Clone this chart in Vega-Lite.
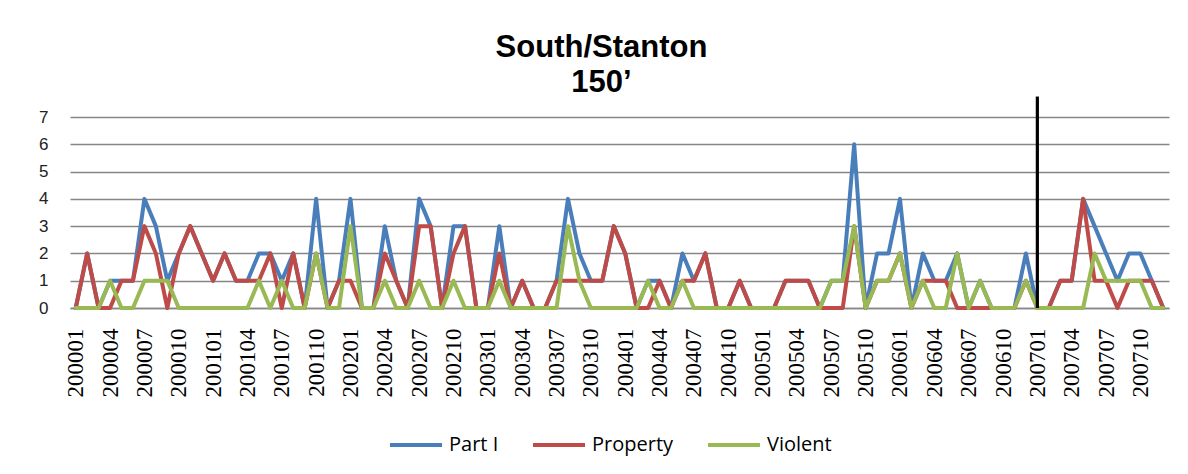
{
  "$schema": "https://vega.github.io/schema/vega-lite/v6.json",
  "width": 1099,
  "height": 191,
  "autosize": {"type": "none"},
  "padding": {"left": 70, "top": 117, "right": 19, "bottom": 166},
  "background": "white",
  "title": {"text": ["South/Stanton", "150’"], "anchor": "middle", "frame": "group", "font": "Liberation Sans Narrow, Liberation Sans, Arial, sans-serif", "fontSize": 31, "fontWeight": "bold", "lineHeight": 35, "offset": -4, "dx": -18, "color": "#000"},
  "config": {"view": {"stroke": null}},
  "layer": [
    {
      "data": {"values": [
        {"m":"200001","Part I":0,"Property":0,"Violent":0},
        {"m":"200002","Part I":2,"Property":2,"Violent":0},
        {"m":"200003","Part I":0,"Property":0,"Violent":0},
        {"m":"200004","Part I":1,"Property":0,"Violent":1},
        {"m":"200005","Part I":1,"Property":1,"Violent":0},
        {"m":"200006","Part I":1,"Property":1,"Violent":0},
        {"m":"200007","Part I":4,"Property":3,"Violent":1},
        {"m":"200008","Part I":3,"Property":2,"Violent":1},
        {"m":"200009","Part I":1,"Property":0,"Violent":1},
        {"m":"200010","Part I":2,"Property":2,"Violent":0},
        {"m":"200011","Part I":3,"Property":3,"Violent":0},
        {"m":"200012","Part I":2,"Property":2,"Violent":0},
        {"m":"200101","Part I":1,"Property":1,"Violent":0},
        {"m":"200102","Part I":2,"Property":2,"Violent":0},
        {"m":"200103","Part I":1,"Property":1,"Violent":0},
        {"m":"200104","Part I":1,"Property":1,"Violent":0},
        {"m":"200105","Part I":2,"Property":1,"Violent":1},
        {"m":"200106","Part I":2,"Property":2,"Violent":0},
        {"m":"200107","Part I":1,"Property":0,"Violent":1},
        {"m":"200108","Part I":2,"Property":2,"Violent":0},
        {"m":"200109","Part I":0,"Property":0,"Violent":0},
        {"m":"200110","Part I":4,"Property":2,"Violent":2},
        {"m":"200111","Part I":0,"Property":0,"Violent":0},
        {"m":"200112","Part I":1,"Property":1,"Violent":0},
        {"m":"200201","Part I":4,"Property":1,"Violent":3},
        {"m":"200202","Part I":0,"Property":0,"Violent":0},
        {"m":"200203","Part I":0,"Property":0,"Violent":0},
        {"m":"200204","Part I":3,"Property":2,"Violent":1},
        {"m":"200205","Part I":1,"Property":1,"Violent":0},
        {"m":"200206","Part I":0,"Property":0,"Violent":0},
        {"m":"200207","Part I":4,"Property":3,"Violent":1},
        {"m":"200208","Part I":3,"Property":3,"Violent":0},
        {"m":"200209","Part I":0,"Property":0,"Violent":0},
        {"m":"200210","Part I":3,"Property":2,"Violent":1},
        {"m":"200211","Part I":3,"Property":3,"Violent":0},
        {"m":"200212","Part I":0,"Property":0,"Violent":0},
        {"m":"200301","Part I":0,"Property":0,"Violent":0},
        {"m":"200302","Part I":3,"Property":2,"Violent":1},
        {"m":"200303","Part I":0,"Property":0,"Violent":0},
        {"m":"200304","Part I":1,"Property":1,"Violent":0},
        {"m":"200305","Part I":0,"Property":0,"Violent":0},
        {"m":"200306","Part I":0,"Property":0,"Violent":0},
        {"m":"200307","Part I":1,"Property":1,"Violent":0},
        {"m":"200308","Part I":4,"Property":1,"Violent":3},
        {"m":"200309","Part I":2,"Property":1,"Violent":1},
        {"m":"200310","Part I":1,"Property":1,"Violent":0},
        {"m":"200311","Part I":1,"Property":1,"Violent":0},
        {"m":"200312","Part I":3,"Property":3,"Violent":0},
        {"m":"200401","Part I":2,"Property":2,"Violent":0},
        {"m":"200402","Part I":0,"Property":0,"Violent":0},
        {"m":"200403","Part I":1,"Property":0,"Violent":1},
        {"m":"200404","Part I":1,"Property":1,"Violent":0},
        {"m":"200405","Part I":0,"Property":0,"Violent":0},
        {"m":"200406","Part I":2,"Property":1,"Violent":1},
        {"m":"200407","Part I":1,"Property":1,"Violent":0},
        {"m":"200408","Part I":2,"Property":2,"Violent":0},
        {"m":"200409","Part I":0,"Property":0,"Violent":0},
        {"m":"200410","Part I":0,"Property":0,"Violent":0},
        {"m":"200411","Part I":1,"Property":1,"Violent":0},
        {"m":"200412","Part I":0,"Property":0,"Violent":0},
        {"m":"200501","Part I":0,"Property":0,"Violent":0},
        {"m":"200502","Part I":0,"Property":0,"Violent":0},
        {"m":"200503","Part I":1,"Property":1,"Violent":0},
        {"m":"200504","Part I":1,"Property":1,"Violent":0},
        {"m":"200505","Part I":1,"Property":1,"Violent":0},
        {"m":"200506","Part I":0,"Property":0,"Violent":0},
        {"m":"200507","Part I":1,"Property":0,"Violent":1},
        {"m":"200508","Part I":1,"Property":0,"Violent":1},
        {"m":"200509","Part I":6,"Property":3,"Violent":3},
        {"m":"200510","Part I":0,"Property":0,"Violent":0},
        {"m":"200511","Part I":2,"Property":1,"Violent":1},
        {"m":"200512","Part I":2,"Property":1,"Violent":1},
        {"m":"200601","Part I":4,"Property":2,"Violent":2},
        {"m":"200602","Part I":0,"Property":0,"Violent":0},
        {"m":"200603","Part I":2,"Property":1,"Violent":1},
        {"m":"200604","Part I":1,"Property":1,"Violent":0},
        {"m":"200605","Part I":1,"Property":1,"Violent":0},
        {"m":"200606","Part I":2,"Property":0,"Violent":2},
        {"m":"200607","Part I":0,"Property":0,"Violent":0},
        {"m":"200608","Part I":1,"Property":0,"Violent":1},
        {"m":"200609","Part I":0,"Property":0,"Violent":0},
        {"m":"200610","Part I":0,"Property":0,"Violent":0},
        {"m":"200611","Part I":0,"Property":0,"Violent":0},
        {"m":"200612","Part I":2,"Property":1,"Violent":1},
        {"m":"200701","Part I":0,"Property":0,"Violent":0},
        {"m":"200702","Part I":0,"Property":0,"Violent":0},
        {"m":"200703","Part I":1,"Property":1,"Violent":0},
        {"m":"200704","Part I":1,"Property":1,"Violent":0},
        {"m":"200705","Part I":4,"Property":4,"Violent":0},
        {"m":"200706","Part I":3,"Property":1,"Violent":2},
        {"m":"200707","Part I":2,"Property":1,"Violent":1},
        {"m":"200708","Part I":1,"Property":0,"Violent":1},
        {"m":"200709","Part I":2,"Property":1,"Violent":1},
        {"m":"200710","Part I":2,"Property":1,"Violent":1},
        {"m":"200711","Part I":1,"Property":1,"Violent":0},
        {"m":"200712","Part I":0,"Property":0,"Violent":0}
      ]},
      "transform": [{"fold": ["Part I", "Property", "Violent"], "as": ["series", "count"]}],
      "mark": {"type": "line", "strokeWidth": 4, "strokeJoin": "round", "strokeCap": "round"},
      "encoding": {
        "x": {"field": "m", "type": "nominal", "scale": {"type": "point", "padding": 0.5},
          "axis": {"values": ["200001","200004","200007","200010","200101","200104","200107","200110","200201","200204","200207","200210","200301","200304","200307","200310","200401","200404","200407","200410","200501","200504","200507","200510","200601","200604","200607","200610","200701","200704","200707","200710"],
            "labelAngle": -90, "labelFont": "Liberation Serif", "labelFontSize": 23, "labelColor": "#000", "labelPadding": 20, "ticks": false, "domainColor": "#868686", "domainWidth": 1.3, "grid": false, "title": null}},
        "y": {"field": "count", "type": "quantitative", "scale": {"domain": [0, 7], "nice": false},
          "axis": {"values": [0,1,2,3,4,5,6,7], "labelOverlap": false, "grid": true, "gridColor": "#868686", "gridWidth": 1.3, "domain": false, "ticks": false, "labelFont": "Liberation Sans", "labelFontSize": 17, "labelPadding": 22, "labelColor": "#222", "title": null}},
        "color": {"field": "series", "type": "nominal",
          "scale": {"domain": ["Part I", "Property", "Violent"], "range": ["#4A7EBB", "#BE4B48", "#98B954"]},
          "legend": {"orient": "none", "legendX": 318, "legendY": 300, "direction": "horizontal", "title": null, "symbolType": "stroke", "symbolSize": 2704, "symbolStrokeWidth": 4, "labelFont": "Open Sans", "labelFontSize": 20, "labelOffset": 5, "columnPadding": 26, "labelColor": "#000"}}
      }
    },
    {
      "data": {"values": [{"m": "200701"}]},
      "mark": {"type": "rule", "color": "#000", "strokeWidth": 3.2},
      "encoding": {
        "x": {"field": "m", "type": "nominal",
          "axis": {"values": ["200001","200004","200007","200010","200101","200104","200107","200110","200201","200204","200207","200210","200301","200304","200307","200310","200401","200404","200407","200410","200501","200504","200507","200510","200601","200604","200607","200610","200701","200704","200707","200710"],
            "labelAngle": -90, "labelFont": "Liberation Serif", "labelFontSize": 23, "labelColor": "#000", "labelPadding": 20, "ticks": false, "domainColor": "#868686", "domainWidth": 1.3, "grid": false, "title": null}},
        "y": {"datum": 0, "axis": {"values": [0,1,2,3,4,5,6,7], "labelOverlap": false, "grid": true, "gridColor": "#868686", "gridWidth": 1.3, "domain": false, "ticks": false, "labelFont": "Liberation Sans", "labelFontSize": 17, "labelPadding": 22, "labelColor": "#222", "title": null}},
        "y2": {"datum": 7.75}
      }
    }
  ]
}
